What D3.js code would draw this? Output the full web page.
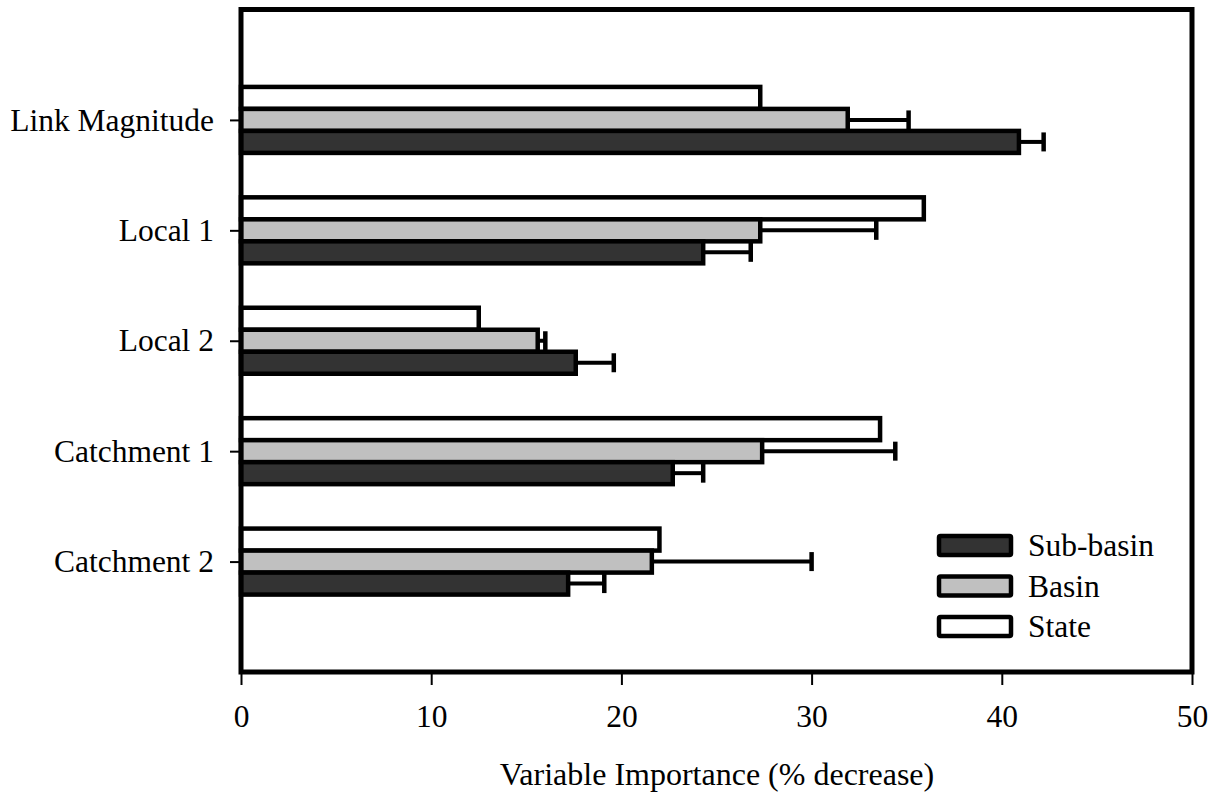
<!DOCTYPE html>
<html><head><meta charset="utf-8">
<script src="https://cdn.jsdelivr.net/npm/d3@7"></script>
<style>body{margin:0;background:#fff}svg{display:block}svg text{font-family:"Liberation Serif","Times New Roman",Tinos,"DejaVu Serif",serif !important;fill:#000}</style>
</head><body>
<script>
const categories = ["Link Magnitude","Local 1","Local 2","Catchment 1","Catchment 2"];
const seriesNames = ["State","Basin","Sub-basin"];
const stateValues = [27.3, 35.9, 12.5, 33.6, 22.0];
const basinValues = [31.9, 27.3, 15.6, 27.4, 21.6];
const basinUpper  = [35.1, 33.4, 16.0, 34.4, 30.0];
const subValues   = [40.9, 24.3, 17.6, 22.7, 17.2];
const subUpper    = [42.2, 26.8, 19.6, 24.3, 19.1];
const xTicks = [0,10,20,30,40,50];
const fills = {"State":"#ffffff","Basin":"#c0c0c0","Sub-basin":"#333333"};

const W=1222,H=795;
const L=241,R=1192,T=9.5,B=672;
const FS=31.5;
const svg=d3.select("body").append("svg").attr("width",W).attr("height",H);
const x=d3.scaleLinear().domain([0,50]).range([L,R]);
const y=d3.scalePoint().domain(categories).range([T,B]).padding(1);
const barH=22;
const offsets={"State":-barH,"Basin":0,"Sub-basin":barH};
const seriesVals={"State":stateValues,"Basin":basinValues,"Sub-basin":subValues};
const seriesErr={"Basin":basinUpper,"Sub-basin":subUpper};

["Basin","Sub-basin"].forEach(s=>{
  const g=svg.append("g");
  categories.forEach((c,i)=>{
    const cy=y(c)+offsets[s];
    g.append("line").attr("x1",x(seriesVals[s][i])).attr("x2",x(seriesErr[s][i]))
      .attr("y1",cy).attr("y2",cy).attr("stroke","#000").attr("stroke-width",4);
    g.append("line").attr("x1",x(seriesErr[s][i])).attr("x2",x(seriesErr[s][i]))
      .attr("y1",cy-9.5).attr("y2",cy+9.5).attr("stroke","#000").attr("stroke-width",4.5);
  });
});
seriesNames.forEach(s=>{
  svg.append("g").selectAll("rect").data(categories).join("rect")
    .attr("x",x(0)).attr("y",(c)=>y(c)+offsets[s]-barH/2)
    .attr("width",(c,i)=>x(seriesVals[s][i])-x(0)).attr("height",barH)
    .attr("fill",fills[s]).attr("stroke","#000").attr("stroke-width",4.5);
});
svg.append("rect").attr("x",L).attr("y",T).attr("width",R-L).attr("height",B-T)
  .attr("fill","none").attr("stroke","#000").attr("stroke-width",5);

const xa=svg.append("g").attr("transform",`translate(0,${B})`)
  .call(d3.axisBottom(x).tickValues(xTicks).tickSize(13).tickPadding(20).tickFormat(d3.format("d")));
xa.attr("font-family",null);
xa.select(".domain").remove();
xa.selectAll("line").attr("stroke-width",2);
xa.selectAll("text").attr("font-size",FS);
const ya=svg.append("g").attr("transform",`translate(${L},0)`)
  .call(d3.axisLeft(y).tickSize(11).tickPadding(16));
ya.attr("font-family",null);
ya.select(".domain").remove();
ya.selectAll("line").attr("stroke-width",2);
ya.selectAll("text").attr("font-size",FS);

svg.append("text").attr("x",717).attr("y",785).attr("text-anchor","middle")
  .attr("font-size",32).text("Variable Importance (% decrease)");

const legendOrder=["Sub-basin","Basin","State"];
const lg=svg.append("g");
legendOrder.forEach((s,i)=>{
  const ly=546+i*40.5;
  lg.append("rect").attr("x",939).attr("y",ly-10).attr("width",72).attr("height",19)
    .attr("fill",fills[s]).attr("stroke","#000").attr("stroke-width",4.5).attr("rx",1.5);
  lg.append("text").attr("x",1028).attr("y",ly+10).attr("font-size",FS).text(s);
});
</script>
</body></html>
